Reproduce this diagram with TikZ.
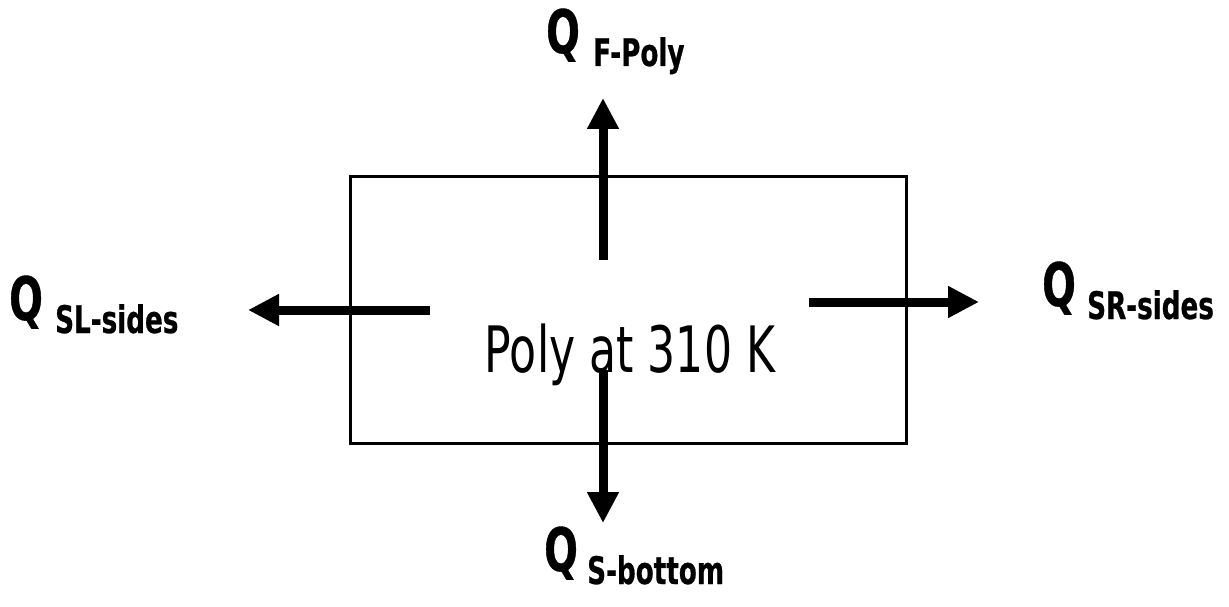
\documentclass[tikz,border=0pt]{standalone}
\usepackage{fontspec}
\usetikzlibrary{arrows.meta, positioning, calc}
\newfontfamily\polyfont[FakeStretch=0.69]{DejaVu Sans}
\newfontfamily\heatfont[FakeStretch=0.69, FakeBold=0.6]{DejaVu Sans Bold}
\newfontfamily\qfont[FakeStretch=0.66, FakeBold=0.6]{DejaVu Sans Bold}

\begin{document}
\begin{tikzpicture}[x=1pt, y=-1pt,
    heat/.style={line width=9pt, -{Triangle[length=31pt, width=30pt]}},
    qsym/.style={inner sep=0pt, anchor=base west, font=\qfont\fontsize{60}{60}\selectfont},
    qsub/.style={inner sep=0pt, anchor=base west, font=\heatfont\fontsize{38}{38}\selectfont}]
    \useasboundingbox (0,0) rectangle (1229,607);
    \node[draw, line width=3pt, minimum width=556pt, minimum height=267pt, inner sep=0pt] (poly) at (628.5,310) {};
    \node[inner sep=0pt, anchor=base, font=\polyfont\fontsize{64}{64}\selectfont] (label) at (630,372) {Poly at 310 K};
    % heat flow arrows
    \coordinate (up0) at (603,260);   \coordinate (up1) at (603,98);
    \coordinate (dn0) at (603,370);   \coordinate (dn1) at (603,523);
    \coordinate (lf0) at (430,310);   \coordinate (lf1) at (248,310);
    \coordinate (rt0) at (809,302);   \coordinate (rt1) at (979,302);
    \draw[heat] (up0) -- (up1);
    \draw[heat] (dn0) -- (dn1);
    \draw[heat] (lf0) -- (lf1);
    \draw[heat] (rt0) -- (rt1);
    % labels
    \node[qsym] (qtop) at (546,53) {Q};
    \node[qsub] (qtops) at (593,66) {F-Poly};
    \node[qsym] (qleft) at (9,320) {Q};
    \node[qsub] (qlefts) at (55,333) {SL-sides};
    \node[qsym] (qright) at (1042,306) {Q};
    \node[qsub] (qrights) at (1087,319) {SR-sides};
    \node[qsym] (qbot) at (544,571) {Q};
    \node[qsub] (qbots) at (587,584) {S-bottom};
\end{tikzpicture}
\end{document}
